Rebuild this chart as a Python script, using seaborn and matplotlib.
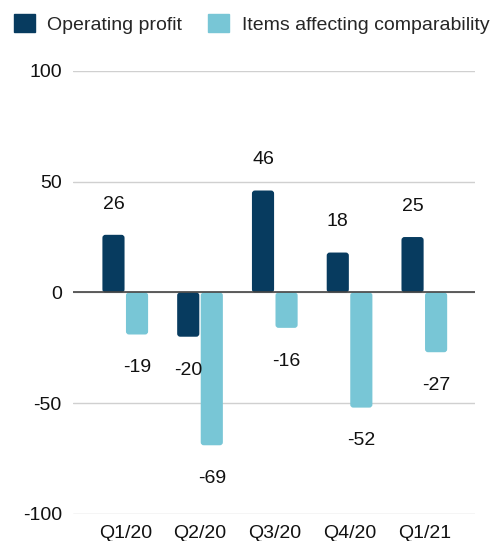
import matplotlib
matplotlib.use("Agg")
import matplotlib.pyplot as plt
import seaborn as sns
import pandas as pd
from matplotlib.patches import Patch, FancyBboxPatch

quarters = ["Q1/20", "Q2/20", "Q3/20", "Q4/20", "Q1/21"]
operating_profit = [26, -20, 46, 18, 25]
items_affecting = [-19, -69, -16, -52, -27]
series_names = ["Operating profit", "Items affecting comparability"]
colors = ["#073B5F", "#78C6D6"]

df = pd.DataFrame({
    "Quarter": quarters * 2,
    "Value": operating_profit + items_affecting,
    "Series": [series_names[0]] * len(quarters) + [series_names[1]] * len(quarters),
})

sns.set_theme(style="white")
plt.rcParams["font.family"] = ["Liberation Sans", "DejaVu Sans"]

fig = plt.figure(figsize=(4.96, 5.41), dpi=100)
ax = fig.add_axes([0.147, 0.05, 0.811, 0.819])

sns.barplot(data=df, x="Quarter", y="Value", hue="Series", palette=colors,
            width=0.63, gap=0.06, ax=ax, legend=False, saturation=1)

ax.set_ylim(-100, 100)
ax.set_xlim(-0.7, 4.68)
ax.set_yticks([-100, -50, 0, 50, 100])
ax.set_yticklabels(["-100", "-50", "0", "50", "100"])
ax.yaxis.grid(True, color="#D0D0D0", linewidth=1)
ax.set_axisbelow(True)
ax.axhline(0, color="#444444", linewidth=1.2, zorder=3)
for s in ax.spines.values():
    s.set_visible(False)
ax.tick_params(axis="both", length=0, labelsize=14, colors="#111111")
ax.tick_params(axis="y", pad=8)
ax.tick_params(axis="x", pad=8)
ax.set_xlabel("")
ax.set_ylabel("")

# round bar corners slightly
fig.canvas.draw()
px_per_x = ax.transData.transform((1, 0))[0] - ax.transData.transform((0, 0))[0]
px_per_y = ax.transData.transform((0, 1))[1] - ax.transData.transform((0, 0))[1]
r_x = 3.0 / px_per_x
aspect = px_per_x / px_per_y

for container in ax.containers:
    for bar in container:
        x0, y0 = bar.get_x(), bar.get_y()
        w, h = bar.get_width(), bar.get_height()
        fc = bar.get_facecolor()
        bar.set_visible(False)
        fb = FancyBboxPatch((x0, min(y0, y0 + h)), w, abs(h),
                            boxstyle=f"round,pad=0,rounding_size={r_x}",
                            mutation_aspect=aspect, facecolor=fc, edgecolor="none",
                            zorder=2)
        ax.add_patch(fb)
        xc = x0 + w / 2
        off = 22 if h >= 0 else -24
        ax.annotate(f"{h:.0f}", (xc, h), xytext=(0, off), textcoords="offset points",
                    ha="center", va="center", fontsize=14, color="#111111")

handles = [Patch(facecolor=c, edgecolor=c) for c in colors]
fig.legend(handles, series_names, loc="upper left", bbox_to_anchor=(0.005, 0.995),
           ncol=2, frameon=False, fontsize=14, handlelength=1.05, handleheight=1.05,
           handletextpad=0.65, columnspacing=1.35, borderaxespad=0.2)

fig.savefig("out.png", dpi=100)
